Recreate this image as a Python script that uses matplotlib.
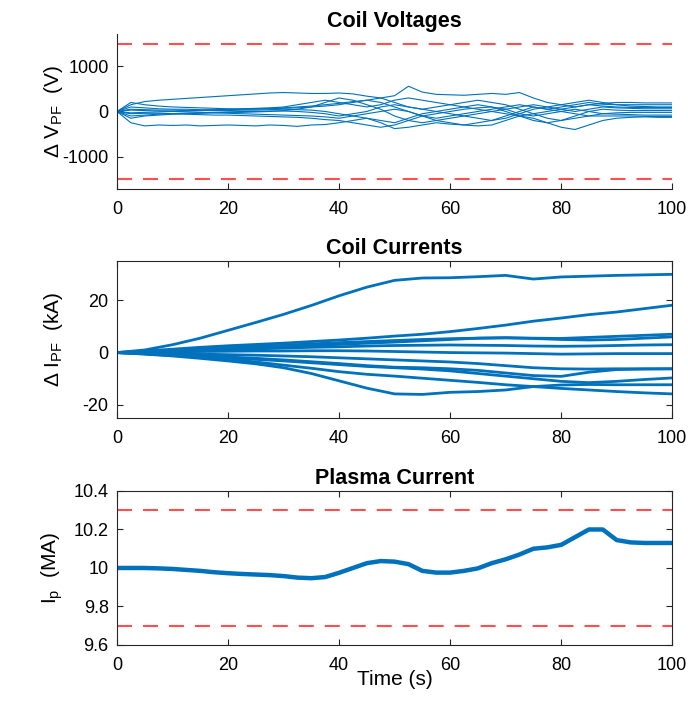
import numpy as np
import matplotlib
matplotlib.use("Agg")
import matplotlib.pyplot as plt

plt.rcParams['font.family'] = ['Liberation Sans', 'DejaVu Sans']
plt.rcParams['mathtext.fontset'] = 'custom'
plt.rcParams['mathtext.rm'] = 'Liberation Sans'
plt.rcParams['mathtext.it'] = 'Liberation Sans:italic'
plt.rcParams['axes.unicode_minus'] = False
plt.rcParams['lines.scale_dashes'] = False

# ---------- dados ---------- #
t = np.arange(0, 100.01, 2.5)  # tempo (s)

# tensoes nas bobinas (V)
v_a = [0, 150, 220, 250, 270, 290, 310, 330, 350, 370, 390, 410, 420, 410, 400, 400, 410, 390, 340, 300, 350,
       560, 430, 380, 370, 360, 380, 400, 380, 420, 300, 200, 150, 100, 150, 180, 200, 200, 190, 190, 190]
v_b = [0, -250, -320, -300, -310, -300, -320, -310, -300, -310, -320, -300, -310, -330, -300, -290, -250, -200, -150, -250, -380,
       -350, -300, -250, -280, -300, -320, -300, -200, -100, -150, -250, -350, -400, -300, -200, -150, -130, -120, -130, -130]
v_c = [0, 200, 150, 120, 100, 90, 80, 70, 60, 50, 50, 60, 70, 80, 100, 120, 150, 200, 250, 300, 200,
       100, 50, 0, -50, -100, -150, -200, -150, -50, 50, 100, 150, 200, 250, 200, 150, 120, 110, 100, 100]
v_d = [0, -150, -100, -80, -60, -50, -40, -30, -20, -20, -10, 0, 20, 50, 100, 200, 300, 250, 150, 50, -100,
       -200, -250, -200, -150, -100, -50, 0, 50, 100, 150, 100, 50, 0, 50, 100, 80, 70, 60, 60, 60]
v_e = [0, 50, 40, 30, 30, 20, 20, 20, 20, 30, 30, 40, 50, 40, 30, 0, -50, -100, -150, -200, -250,
       -150, -50, 0, 50, 100, 150, 100, 0, -100, -200, -250, -200, -100, 0, 50, 30, 20, 20, 20, 20]
v_f = [0, -50, -40, -40, -50, -60, -70, -80, -80, -90, -100, -110, -120, -130, -150, -180, -200, -250, -300, -350, -300,
       -200, -100, -50, 0, 50, 80, 100, 50, -50, -100, -50, 0, 50, 0, -50, -60, -70, -80, -80, -80]
v_g = [0, 100, 80, 60, 50, 50, 40, 40, 50, 60, 70, 80, 100, 150, 200, 250, 200, 150, 100, 150, 250,
       300, 250, 200, 150, 100, 50, 0, -50, -100, -50, 0, 50, 100, 150, 120, 100, 90, 90, 90, 90]
v_h = [0, -100, -80, -60, -50, -40, -30, -20, -10, 0, 0, 10, 10, 0, -20, -50, -100, -50, 0, 100, 150,
       100, 50, 100, 150, 200, 250, 200, 150, 50, -50, -150, -200, -150, -100, -50, -30, -20, -20, -20, -20]
v_i = [0, 30, 20, 10, 0, -10, -20, -30, -40, -50, -60, -70, -80, -90, -100, -120, -150, -100, -50, 0, 50,
       0, -100, -200, -250, -300, -250, -200, -100, 0, 100, 50, 0, -50, -100, -100, -100, -100, -110, -110, -110]
v_j = [0, -30, -20, -10, 0, 10, 20, 30, 40, 50, 60, 70, 80, 100, 120, 150, 180, 220, 250, 200, 100,
       0, -100, -150, -100, -50, 0, 50, 100, 150, 100, 50, 100, 150, 200, 160, 150, 150, 150, 150, 150]
tensoes = [v_a, v_b, v_c, v_d, v_e, v_f, v_g, v_h, v_i, v_j]

# correntes nas bobinas (kA), a cada 5 s
t_i = np.arange(0, 100.01, 5)
i_1 = [0, 1.0, 3.0, 5.5, 8.5, 11.5, 14.6, 18.0, 21.7, 25.0, 27.6, 28.5, 28.6, 29.0, 29.5, 28.1, 28.9, 29.2, 29.5, 29.7, 29.9]
i_2 = [0, 0.6, 1.3, 2.0, 2.6, 3.1, 3.6, 4.2, 4.8, 5.5, 6.3, 7.0, 8.0, 9.2, 10.5, 12.0, 13.2, 14.5, 15.5, 16.8, 18.1]
i_3 = [0, 0.4, 0.9, 1.3, 1.8, 2.3, 2.8, 3.3, 3.8, 4.2, 4.6, 5.0, 5.3, 5.5, 5.6, 5.5, 5.4, 5.8, 6.2, 6.6, 7.0]
i_4 = [0, 0.3, 0.7, 1.1, 1.5, 1.9, 2.3, 2.7, 3.1, 3.6, 4.0, 4.5, 5.0, 5.5, 5.7, 5.4, 5.0, 4.8, 5.0, 5.5, 6.0]
i_5 = [0, 0.2, 0.5, 0.8, 1.1, 1.4, 1.7, 2.0, 2.2, 2.5, 2.7, 2.8, 2.9, 2.8, 2.7, 2.5, 2.4, 2.5, 2.7, 2.9, 3.0]
i_6 = [0, 0.1, 0.3, 0.4, 0.5, 0.6, 0.6, 0.7, 0.7, 0.6, 0.4, 0.2, 0.0, -0.1, -0.2, -0.4, -0.6, -0.5, -0.4, -0.4, -0.4]
i_7 = [0, -0.2, -0.4, -0.6, -0.8, -1.0, -1.3, -1.6, -2.0, -2.4, -2.8, -3.2, -3.6, -4.2, -5.0, -5.8, -6.2, -6.3, -6.2, -6.2, -6.2]
i_8 = [0, -0.3, -0.7, -1.2, -1.7, -2.2, -2.8, -3.5, -4.2, -5.0, -5.6, -5.8, -6.2, -6.8, -7.8, -8.8, -9.1, -7.5, -6.5, -6.3, -6.2]
i_9 = [0, -0.4, -0.9, -1.4, -2.0, -2.6, -3.2, -3.9, -4.6, -5.3, -5.8, -6.3, -7.0, -8.0, -9.0, -10.0, -11.0, -11.5, -11.0, -10.3, -9.7]
i_10 = [0, -0.5, -1.1, -1.8, -2.6, -3.6, -4.8, -6.0, -7.3, -8.3, -9.0, -9.8, -10.6, -11.4, -12.3, -13.0, -13.7, -14.3, -14.9, -15.4, -15.8]
i_11 = [0, -0.6, -1.3, -2.2, -3.2, -4.3, -5.8, -8.0, -10.8, -13.6, -15.8, -16.0, -15.2, -14.9, -14.3, -13.0, -12.4, -12.2, -12.3, -12.3, -12.3]
correntes = [i_1, i_2, i_3, i_4, i_5, i_6, i_7, i_8, i_9, i_10, i_11]

# corrente de plasma (MA)
ip = [10.0, 10.0, 10.0, 9.998, 9.995, 9.99, 9.985, 9.978, 9.973, 9.969, 9.966, 9.963, 9.958, 9.95, 9.947, 9.953,
      9.975, 10.0, 10.025, 10.036, 10.033, 10.02, 9.985, 9.976, 9.976, 9.985, 9.998, 10.025, 10.045, 10.07, 10.1,
      10.107, 10.12, 10.16, 10.2, 10.2, 10.145, 10.133, 10.13, 10.13, 10.13]

v_lim = 1500
ip_lims = [9.7, 10.3]

# ---------- grafico ---------- #
azul = '#0072BD'
vermelho = '#FF5050'
cinza = '#262626'
dash = (10.8, 7.9)
fs_tick, fs_lab, fs_tit = 13, 15, 15.5

fig = plt.figure(figsize=(6.88, 7.02), dpi=100)
ax1 = fig.add_axes([0.170, 0.7308, 0.807, 0.2208])
ax2 = fig.add_axes([0.170, 0.4046, 0.807, 0.2236])
ax3 = fig.add_axes([0.170, 0.0812, 0.807, 0.2194])

for v in tensoes:
    ax1.plot(t, v, color=azul, linewidth=0.8)
ax1.axhline(v_lim, color=vermelho, linewidth=1.5, dashes=dash)
ax1.axhline(-v_lim, color=vermelho, linewidth=1.5, dashes=dash)
ax1.set_ylim(-1720, 1720)
ax1.set_yticks([-1000, 0, 1000])
ax1.set_title('Coil Voltages', fontweight='bold', fontsize=fs_tit, pad=5)
ax1.set_ylabel(r'$\Delta$ V$_{\rm PF}$  (V)', fontsize=fs_lab)
ax1.spines['top'].set_visible(False)
ax1.spines['right'].set_visible(False)

for c in correntes:
    ax2.plot(t_i, c, color=azul, linewidth=2)
ax2.set_ylim(-25, 35)
ax2.set_yticks([-20, 0, 20])
ax2.set_title('Coil Currents', fontweight='bold', fontsize=fs_tit, pad=5)
ax2.set_ylabel(r'$\Delta$ I$_{\rm PF}$  (kA)', fontsize=fs_lab)

ax3.plot(t, ip, color=azul, linewidth=3.2)
for lim in ip_lims:
    ax3.axhline(lim, color=vermelho, linewidth=1.5, dashes=dash)
ax3.set_ylim(9.6, 10.4)
ax3.set_yticks([9.6, 9.8, 10.0, 10.2, 10.4])
ax3.set_yticklabels(['9.6', '9.8', '10', '10.2', '10.4'])
ax3.set_title('Plasma Current', fontweight='bold', fontsize=fs_tit, pad=5)
ax3.set_ylabel(r'I$_{\rm p}$  (MA)', fontsize=fs_lab)
ax3.set_xlabel('Time (s)', fontsize=fs_lab, labelpad=-3)

for ax in [ax1, ax2, ax3]:
    ax.set_xlim(0, 100)
    ax.set_xticks(range(0, 101, 20))
    box = ax is not ax1
    ax.tick_params(direction='in', length=4, width=0.8, colors=cinza, labelsize=fs_tick,
                   top=box, right=box, labelcolor='black', pad=6)
    ax.tick_params(axis='x', pad=9)
    ax.yaxis.set_label_coords(-0.094, 0.5)
    for s in ax.spines.values():
        s.set_color(cinza)
        s.set_linewidth(0.8)

fig.savefig('out.png', dpi=100)
